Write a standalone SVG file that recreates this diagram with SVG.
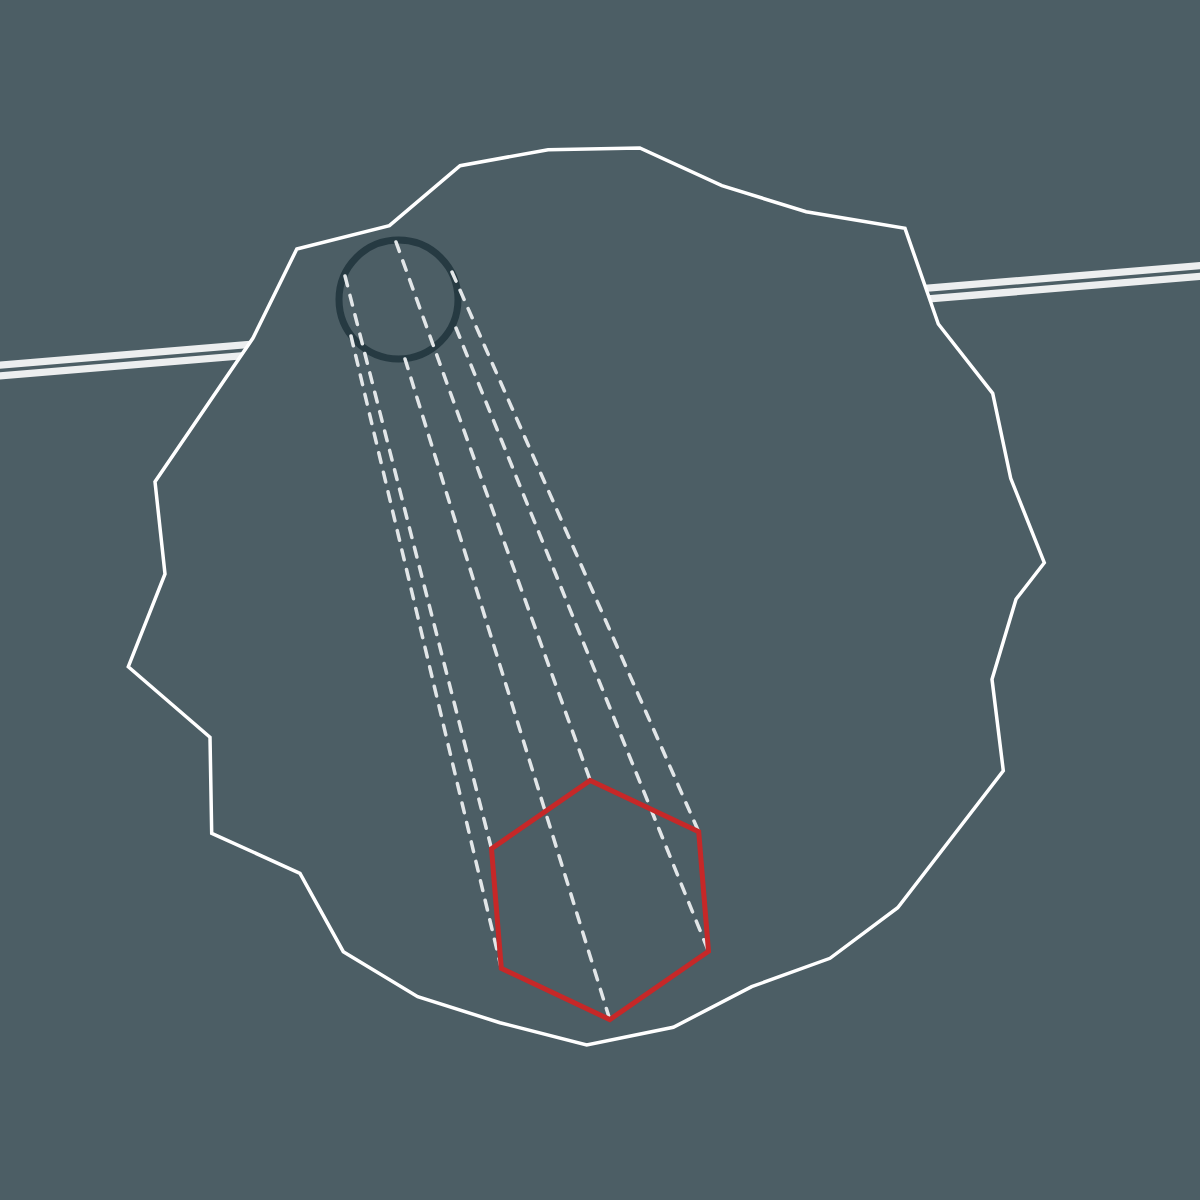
<svg xmlns="http://www.w3.org/2000/svg" width="1200" height="1200" viewBox="0 0 1200 1200">
  <style>
    .road-outer { stroke: #eceeef; stroke-width: 18; fill: none; }
    .road-inner { stroke: #4c5e65; stroke-width: 3.5; fill: none; }
    .boundary { fill: #4c5e65; stroke: #ffffff; stroke-width: 3.5; stroke-linejoin: miter; }
    .ring { fill: none; stroke: #263a42; stroke-width: 7; }
    .ray { stroke: #e2e6e8; stroke-width: 3.5; stroke-dasharray: 10 10; stroke-linecap: round; fill: none; }
    .hex { fill: none; stroke: #c62828; stroke-width: 5; stroke-linejoin: miter; }
  </style>
  <rect id="background" x="0" y="0" width="1200" height="1200" fill="#4c5e65"/>
  <g id="road">
    <line class="road-outer" x1="-10" y1="371.3" x2="1210" y2="270.2"/>
    <line class="road-inner" x1="-10" y1="371.3" x2="1210" y2="270.2"/>
  </g>
  <g id="boundary-area">
    <polygon class="boundary" points="296.8,249 389.4,225.7 460.1,165.7 548.1,149.7 639.8,148 721.9,185.7 806.1,211.7 905,228.3 938.3,324 992.7,393.3 1010.7,478.3 1044.3,562.7 1016,599.3 992,679.3 1003.3,770.7 897.7,907.7 830,958.3 751.7,986.7 673.3,1027.3 586.7,1045 500,1022.7 417.7,996.7 343.3,951.7 300,873.3 211.7,833.3 210,737.3 128.3,666.7 165,574 155,481.7 253,338"/>
  </g>
  <g id="source-circle">
    <circle class="ring" cx="398.5" cy="299.5" r="59.5"/>
  </g>
  <g id="connectors">
    <line class="ray" x1="396" y1="242" x2="590.2" y2="780.4"/>
    <line class="ray" x1="452" y1="272" x2="698.7" y2="831.7"/>
    <line class="ray" x1="456" y1="328" x2="708.5" y2="951.3"/>
    <line class="ray" x1="405" y1="359" x2="609.8" y2="1019.6"/>
    <line class="ray" x1="351" y1="336" x2="501.3" y2="968.3"/>
    <line class="ray" x1="345" y1="276" x2="491.5" y2="848.7"/>
  </g>
  <g id="target-hexagon">
    <polygon class="hex" points="590.2,780.4 698.7,831.7 708.5,951.3 609.8,1019.6 501.3,968.3 491.5,848.7"/>
  </g>
</svg>
